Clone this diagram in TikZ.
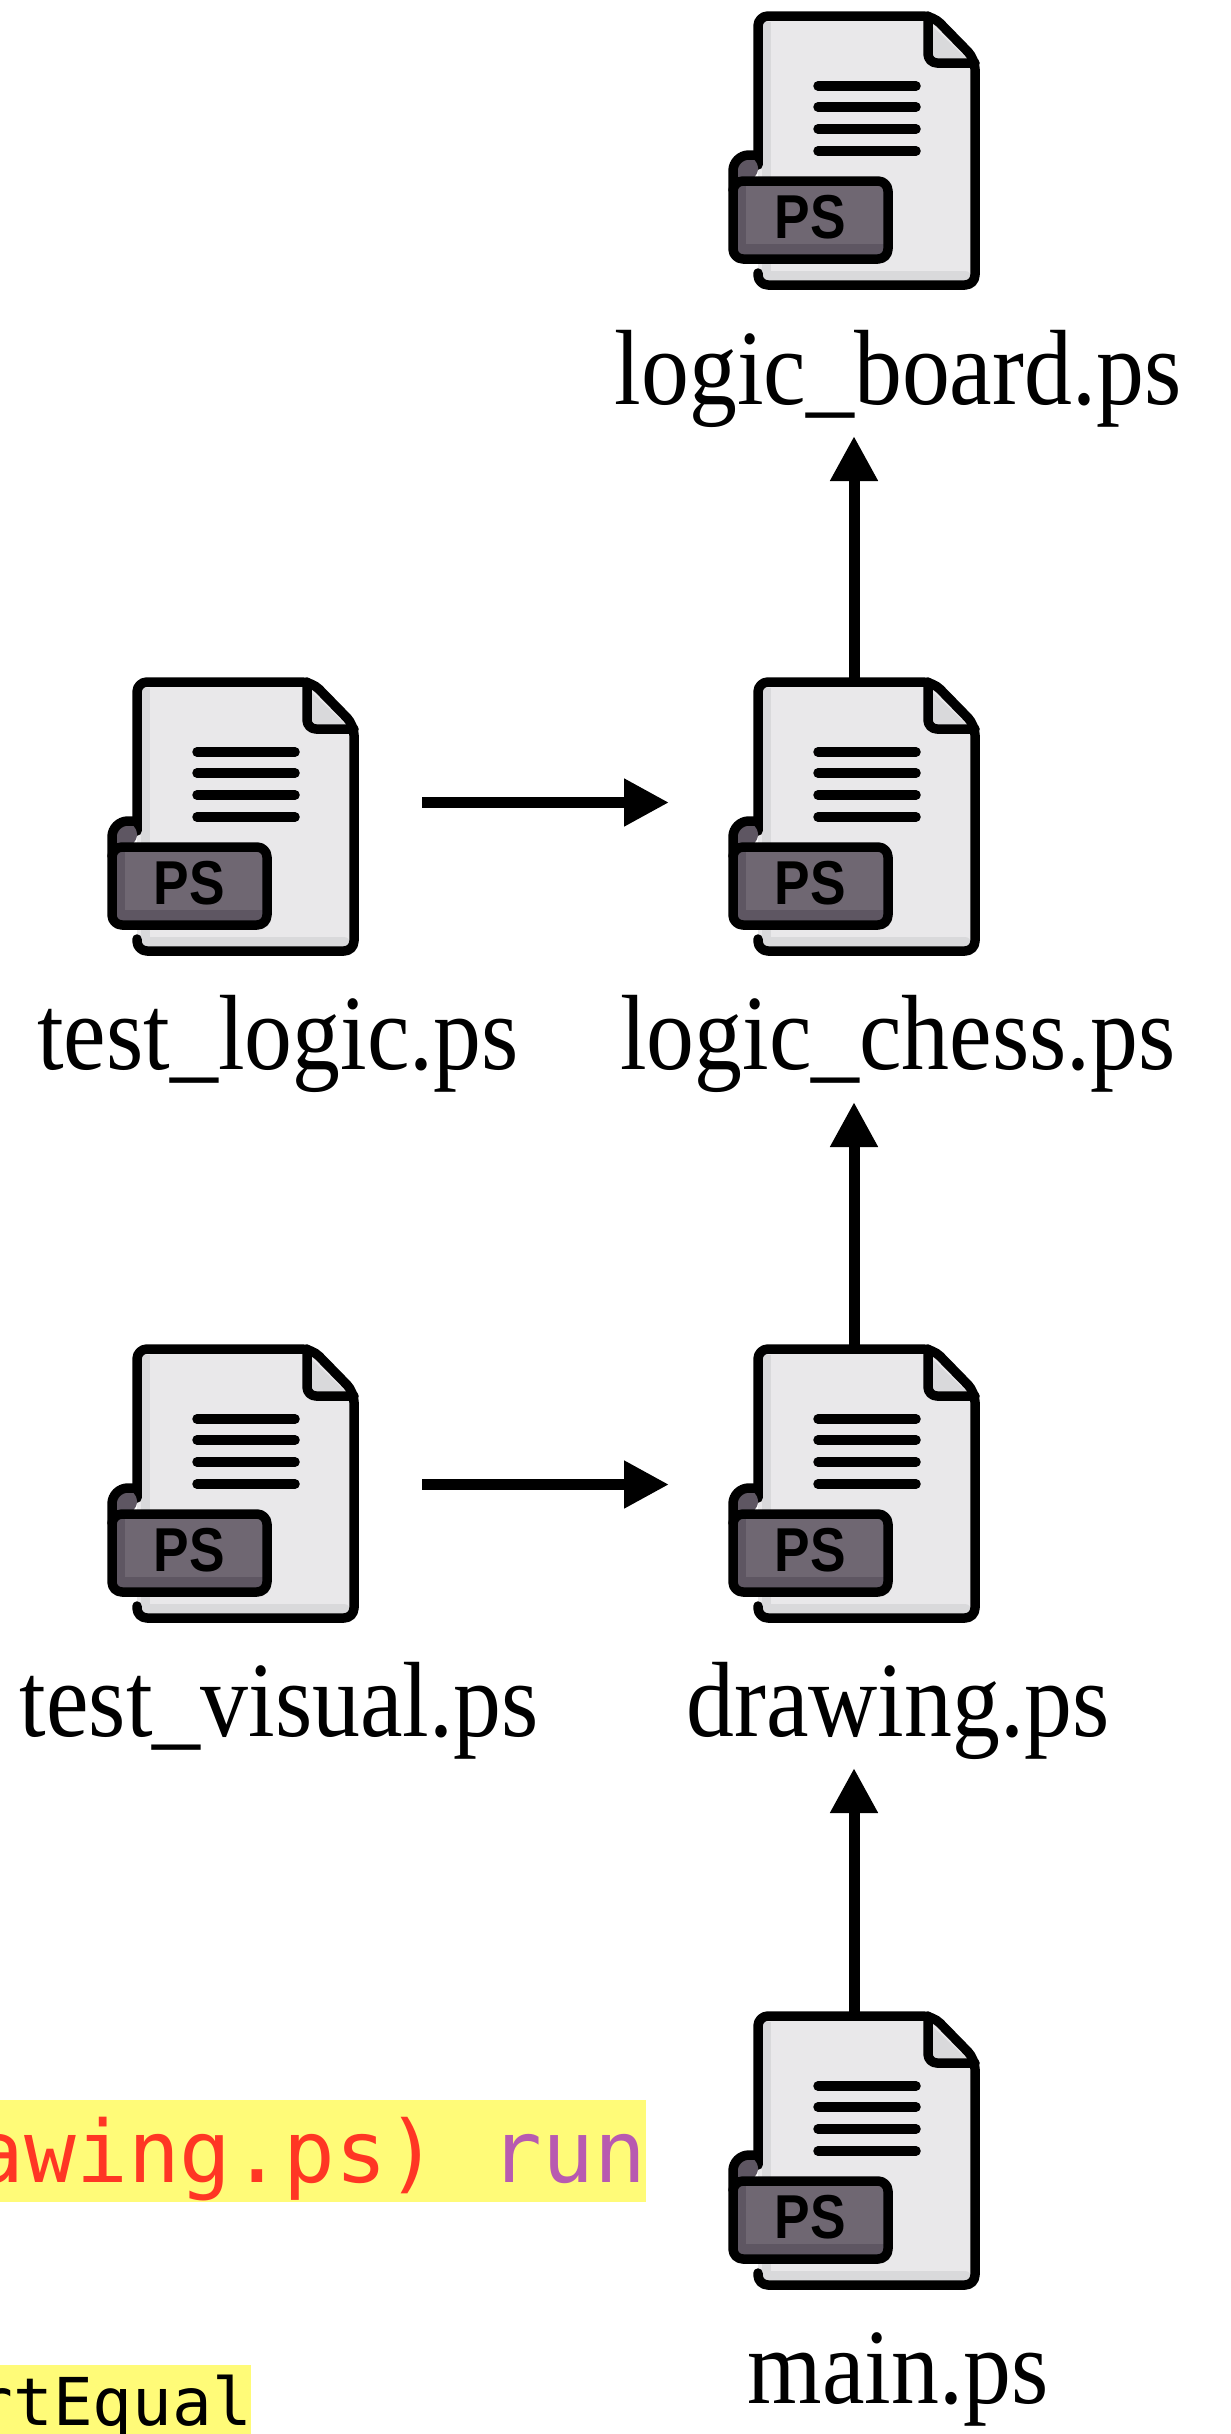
\documentclass[tikz,border=0pt]{standalone}
\usepackage{fontspec}
\usetikzlibrary{arrows.meta}
\newfontfamily\labfont[FakeStretch=0.895]{Liberation Serif}
\newfontfamily\codefont{DejaVu Sans Mono}
\newfontfamily\psfont[FakeStretch=0.86]{Liberation Sans}
\definecolor{docfill}{HTML}{E9E8EA}
\definecolor{docshade}{HTML}{D9D9DB}
\definecolor{tagfill}{HTML}{6F6772}
\definecolor{tagshade}{HTML}{5E5662}
\definecolor{hl}{HTML}{FFFB78}
\definecolor{coderedc}{HTML}{FF3624}
\definecolor{codepurple}{HTML}{B85AB0}
\tikzset{
  outline/.style={draw=black,line width=9.5pt,line cap=round,line join=round},
  psicon/.pic={
    \fill[docfill,rounded corners=8pt] (4,4) -- (179,4) -- (221,47) -- (221,273) -- (4,273) -- cycle;
    \fill[docshade] (8,10) rectangle (17,262);
    \fill[docshade,rounded corners=6pt] (8,259) rectangle (217,269);
    \fill[docshade] (172,8) -- (217,51) -- (172,51) -- cycle;
    \draw[outline,rounded corners=10pt] (4,153) -- (4,4) -- (179,4) -- (221,47) -- (221,273) -- (4,273) -- (4,261);
    \draw[outline,rounded corners=9pt] (174,4) -- (174,51) -- (221,51);
    \foreach \ly in {74,95,117,139}{\draw[outline] (64,\ly) -- (162,\ly);}
    \fill[tagshade,rounded corners=14pt] (-21,143) -- (4,143) -- (4,170) -- (-21,170) -- cycle;
    \draw[outline,rounded corners=16pt] (-21,178) -- (-21,143) -- (4,143);
    \fill[tagshade,rounded corners=10pt] (-21,169) rectangle (134,247);
    \fill[tagfill] (-8,173) -- (130,173) -- (130,232) -- (-8,232) -- cycle;
    \draw[outline,rounded corners=10pt] (-21,169) rectangle (134,247);
    \node[inner sep=0pt,font=\psfont\bfseries\fontsize{62}{62}\selectfont] at (56,205) {PS};
  },
  iconbox/.style={minimum width=225pt,minimum height=277pt,inner sep=0pt,outer sep=0pt},
  filelabel/.style={anchor=base,inner sep=0pt,font=\labfont\fontsize{107}{107}\selectfont},
  conn/.style={draw=black,line width=11pt,-{Triangle[width=45pt,length=45pt]}},
  codeband/.style={fill=hl,draw=none},
}
\begin{document}
\begin{tikzpicture}[x=1pt,y=-1pt]
\useasboundingbox (0,0) rectangle (1231,2434);
\clip (0,0) rectangle (1231,2434);
% code fragments
\fill[codeband] (0,2100) rectangle (646,2202);
\node[anchor=base east,inner sep=0pt,font=\codefont\fontsize{86}{86}\selectfont] (runcode) at (646,2182) {\textcolor{coderedc}{awing.ps)} \textcolor{codepurple}{run}};
\fill[codeband] (0,2365) rectangle (251,2434);
\node[anchor=base east,inner sep=0pt,font=\codefont\fontsize{66}{66}\selectfont] (assertcode) at (252,2425) {rtEqual};
% icons
\pic at (754,12) {psicon};
\pic at (754,678) {psicon};
\pic at (133,678) {psicon};
\pic at (754,1345) {psicon};
\pic at (133,1345) {psicon};
\pic at (754,2012) {psicon};
\node[iconbox] (board) at (866.5,150.5) {};
\node[iconbox] (chess) at (866.5,816.5) {};
\node[iconbox] (testlogic) at (245.5,816.5) {};
\node[iconbox] (drawing) at (866.5,1483.5) {};
\node[iconbox] (testvisual) at (245.5,1483.5) {};
\node[iconbox] (mainps) at (866.5,2150.5) {};
% labels
\node[filelabel] (boardlab) at (898,404) {logic\_board.ps};
\node[filelabel] (chesslab) at (898,1069) {logic\_chess.ps};
\node[filelabel] (testlogiclab) at (278,1069) {test\_logic.ps};
\node[filelabel] (drawinglab) at (898,1736) {drawing.ps};
\node[filelabel] (testvisuallab) at (279,1736) {test\_visual.ps};
\node[filelabel] (mainlab) at (898,2403) {main.ps};
% arrow tips
\coordinate (tipboard) at (854,436);
\coordinate (tipchess) at (854,1102);
\coordinate (tipdrawing) at (854,1768);
% connectors
\draw[conn] (chess.north -| tipboard) -- (tipboard);
\draw[conn] (drawing.north -| tipchess) -- (tipchess);
\draw[conn] (mainps.north -| tipdrawing) -- (tipdrawing);
\draw[conn] ([xshift=64pt,yshift=14pt]testlogic.east) -- ([xshift=-85pt,yshift=14pt]chess.west);
\draw[conn] ([xshift=64pt,yshift=-1pt]testvisual.east) -- ([xshift=-85pt,yshift=-1pt]drawing.west);
\end{tikzpicture}
\end{document}
